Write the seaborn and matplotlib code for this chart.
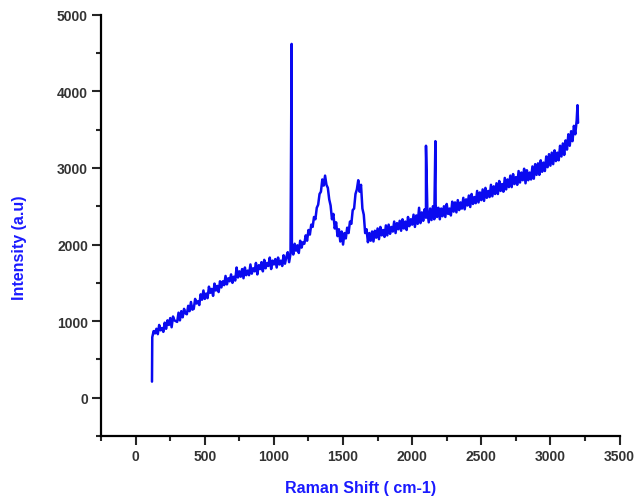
import numpy as np
import pandas as pd
import matplotlib
matplotlib.use("Agg")
import matplotlib.pyplot as plt
import seaborn as sns

grid_shift = np.arange(120, 3201, 10)
grid_intensity = [
    790, 870, 840, 900, 830, 950, 880, 910, 860, 980,
    900, 1010, 950, 1040, 920, 1060, 1010, 1000, 990, 1110,
    1010, 1130, 1050, 1160, 1100, 1090, 1200, 1130, 1250, 1150,
    1160, 1290, 1230, 1260, 1210, 1350, 1280, 1400, 1290, 1360,
    1300, 1450, 1370, 1420, 1330, 1490, 1400, 1460, 1380, 1520,
    1440, 1520, 1470, 1590, 1480, 1560, 1520, 1610, 1500, 1580,
    1530, 1700, 1570, 1650, 1580, 1680, 1560, 1700, 1600, 1660,
    1600, 1740, 1620, 1690, 1650, 1760, 1610, 1730, 1680, 1770,
    1650, 1800, 1690, 1760, 1720, 1830, 1680, 1790, 1740, 1810,
    1700, 1830, 1740, 1790, 1720, 1860, 1750, 1840, 1900, 1770,
    1880, 1970, 1870, 2010, 1920, 1990, 1890, 2050, 1960, 2030,
    2010, 2120, 2050, 2190, 2130, 2260, 2230, 2360, 2330, 2480,
    2520, 2660, 2690, 2850, 2770, 2900, 2780, 2740, 2590, 2510,
    2330, 2400, 2210, 2290, 2110, 2200, 2040, 2170, 2000, 2150,
    2080, 2220, 2150, 2300, 2270, 2450, 2470, 2660, 2720, 2840,
    2690, 2780, 2470, 2390, 2150, 2200, 2030, 2150, 2050, 2170,
    2040, 2180, 2090, 2210, 2070, 2230, 2120, 2190, 2100, 2250,
    2120, 2260, 2140, 2230, 2170, 2300, 2150, 2280, 2200, 2310,
    2180, 2330, 2210, 2300, 2190, 2360, 2240, 2330, 2260, 2390,
    2230, 2380, 2270, 2480, 2280, 2420, 2310, 2460, 2350, 2440,
    2290, 2470, 2320, 2500, 2330, 2520, 2360, 2480, 2330, 2470,
    2370, 2500, 2360, 2530, 2400, 2470, 2380, 2560, 2430, 2550,
    2420, 2580, 2450, 2550, 2470, 2610, 2460, 2590, 2510, 2640,
    2490, 2660, 2530, 2620, 2540, 2700, 2550, 2680, 2580, 2720,
    2570, 2740, 2610, 2700, 2620, 2780, 2630, 2760, 2660, 2800,
    2660, 2830, 2700, 2790, 2690, 2870, 2720, 2850, 2750, 2900,
    2750, 2920, 2790, 2880, 2780, 2960, 2810, 2940, 2840, 2990,
    2800, 2970, 2840, 2940, 2850, 3020, 2860, 3050, 2910, 3060,
    2910, 3100, 2950, 3070, 2960, 3150, 3010, 3180, 3030, 3200,
    3050, 3230, 3090, 3200, 3100, 3290, 3150, 3320, 3170, 3360,
    3240, 3440, 3290, 3480, 3350, 3550, 3440, 3620, 3590,
]

# sharp spikes / start point
spike_shift = [118, 1128, 2100, 2168, 3196]
spike_intensity = [210, 4620, 3290, 3350, 3820]

df = pd.DataFrame({
    "shift": np.concatenate([grid_shift, spike_shift]),
    "intensity": np.concatenate([grid_intensity, spike_intensity]),
})

sns.set_style("ticks")
plt.rcParams["font.family"] = ["Liberation Sans", "DejaVu Sans"]

fig = plt.figure(figsize=(6.4, 5.02), dpi=100)
ax = fig.add_axes([0.158, 0.1295, 0.81, 0.839])

sns.lineplot(data=df, x="shift", y="intensity", sort=True, estimator=None,
             color="#0a0af0", linewidth=1.8, ax=ax)

ax.set_xlim(-250, 3500)
ax.set_ylim(-500, 5000)
ax.set_xticks(range(0, 3501, 500))
ax.set_xticks(range(-250, 3501, 250), minor=True)
ax.set_yticks(range(0, 5001, 1000))
ax.set_yticks(range(-500, 5001, 500), minor=True)

for side in ["top", "right"]:
    ax.spines[side].set_visible(False)
for side in ["left", "bottom"]:
    ax.spines[side].set_linewidth(1.6)
    ax.spines[side].set_color("black")

ax.tick_params(which="major", direction="out", length=6.5, width=1.5,
               labelsize=10, labelcolor="#333333", pad=3)
ax.tick_params(which="minor", direction="out", length=3.5, width=1.5)
for lab in ax.get_xticklabels() + ax.get_yticklabels():
    lab.set_fontweight("bold")

ax.set_xlabel("Raman Shift ( cm-1)", color="#1a1aff", fontsize=11.5,
              fontweight="bold")
ax.set_ylabel("Intensity (a.u)", color="#1a1aff", fontsize=11.5,
              fontweight="bold")
ax.xaxis.set_label_coords(0.5, -0.105)
ax.yaxis.set_label_coords(-0.143, 0.45)

fig.savefig("out.png", dpi=100)
